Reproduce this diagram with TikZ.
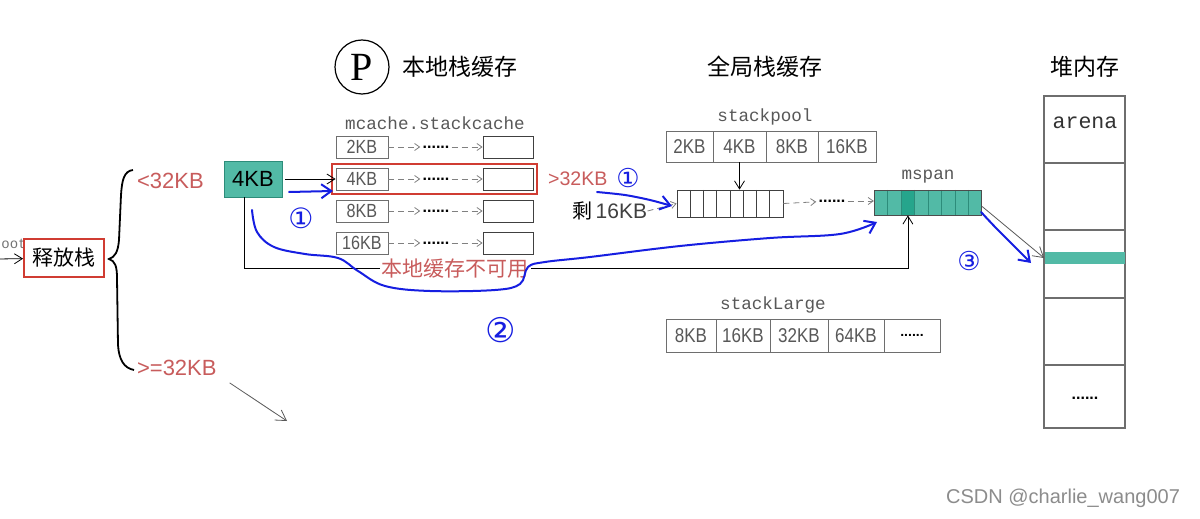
\documentclass[tikz,border=0pt]{standalone}
\usepackage{fontspec}
\setmainfont{Liberation Sans}
\setmonofont{Liberation Mono}
\newfontfamily\cjk{Noto Sans CJK SC}
\newfontfamily\cellfont[FakeStretch=0.85]{Liberation Sans}
\newfontfamily\markfont{DejaVu Sans}
\newfontfamily\pfont{Liberation Serif}
\usepackage{tikz}
\usetikzlibrary{arrows.meta, fit}
\usepackage{xcolor}
\definecolor{tealbox}{RGB}{82,186,166}
\definecolor{tealdark}{RGB}{38,165,140}
\definecolor{tealline}{RGB}{45,140,122}
\definecolor{redtxt}{RGB}{200,92,92}
\definecolor{redbox}{RGB}{208,60,50}
\definecolor{inkblue}{RGB}{22,30,225}
\definecolor{boxgray}{RGB}{110,110,110}
\definecolor{txtgray}{RGB}{88,88,88}

\begin{document}
\begin{tikzpicture}[x=0.5pt, y=-0.5pt,
    mcell/.style={draw=boxgray, minimum width=26pt, minimum height=11pt, inner sep=0,
        font=\cellfont\fontsize{9.5}{9.5}\selectfont, text=txtgray},
    pcell/.style={draw=boxgray, minimum height=15.5pt, inner sep=0,
        font=\cellfont\fontsize{10}{10}\selectfont, text=txtgray},
    dots/.style={font=\bfseries\fontsize{8}{8}\selectfont, inner sep=1pt},
    barb/.style={-{Straight Barb[length=4pt,width=5pt]}},
    dasharrow/.style={draw=gray, densely dashed, line width=0.4pt, -{Straight Barb[length=2.5pt,width=3.5pt]}},
    grayarrow/.style={draw=black!65, -{Straight Barb[length=5pt,width=6pt]}},
    ink/.style={draw=inkblue, line width=1pt, line cap=round, line join=round},
    inkarrow/.style={ink, -{Straight Barb[length=5pt,width=7pt]}},
    redlabel/.style={text=redtxt, font=\fontsize{11}{11}\selectfont},
    monolabel/.style={font=\ttfamily\fontsize{8.8}{8.8}\selectfont, text=txtgray},
    title/.style={font=\cjk\fontsize{11.5}{11.5}\selectfont},
    marknum/.style={text=inkblue, font=\markfont\fontsize{13}{13}\selectfont}]
    \useasboundingbox (0,0) rectangle (1200,519);
    \fill[white] (0,0) rectangle (1200,519);

    \node[anchor=west, text=black!55, font=\ttfamily\fontsize{7}{7}\selectfont, inner sep=0] (src) at (1,244) {oot};
    \node[draw=redbox, line width=0.9pt, minimum width=40pt, minimum height=19pt, inner sep=0,
        font=\cjk\fontsize{10.5}{10.5}\selectfont] (release) at (64,258) {释放栈};
    \coordinate (entry) at (-2,259);
    \draw[barb] (entry) -- (release);

    \draw[line width=0.9pt] (133,170) .. controls (124,171) and (122,180) .. (121,195)
        -- (119,240) .. controls (118,252) and (115,257) .. (109,259)
        .. controls (115,261) and (117,266) .. (117,278)
        -- (118,345) .. controls (119,360) and (124,368) .. (134,370);

    \node[redlabel, anchor=west] (lt32) at (130,181) {<32KB};
    \node[redlabel, anchor=west] (ge32) at (130,368) {>=32KB};
    \coordinate (big) at (287,421);
    \draw[grayarrow] ([xshift=3pt]ge32.south east) -- (big);

    \node[fill=tealbox, draw=tealline, minimum width=29pt, minimum height=18pt, inner sep=0,
        font=\fontsize{11}{11}\selectfont] (k4) at (253,179) {4KB};

    % P local cache
    \node[circle, draw, line width=0.6pt, minimum size=27pt, inner sep=0,
        font=\pfont\fontsize{20}{20}\selectfont] (p) at (362,67) {P};
    \node[title, anchor=west] (localt) at (395,67) {本地栈缓存};
    \node[monolabel] (mcache) at (435,123) {mcache.stackcache};

    \node[mcell] (m2k) at (362,147) {2KB};
    \node[mcell] (m4k) at (362,179) {4KB};
    \node[mcell] (m8k) at (362,211) {8KB};
    \node[mcell] (m16k) at (362,243) {16KB};
    \node[mcell, draw=black!75, minimum width=25pt] (r2k) at (508,147) {};
    \node[mcell, draw=black!75, minimum width=25pt] (r4k) at (508,179) {};
    \node[mcell, draw=black!75, minimum width=25pt] (r8k) at (508,211) {};
    \node[mcell, draw=black!75, minimum width=25pt] (r16k) at (508,243) {};
    \node[dots] (d2k) at (436,147) {......};
    \node[dots] (d4k) at (436,179) {......};
    \node[dots] (d8k) at (436,211) {......};
    \node[dots] (d16k) at (436,243) {......};
    \draw[dasharrow] (m2k) -- (d2k);
    \draw[dasharrow] (d2k) -- (r2k);
    \draw[dasharrow] (m4k) -- (d4k);
    \draw[dasharrow] (d4k) -- (r4k);
    \draw[dasharrow] (m8k) -- (d8k);
    \draw[dasharrow] (d8k) -- (r8k);
    \draw[dasharrow] (m16k) -- (d16k);
    \draw[dasharrow] (d16k) -- (r16k);
    \node[draw=redbox, line width=1pt, inner sep=2pt, fit=(m4k)(r4k)] (hl) {};
    \node[redlabel, anchor=west, font=\fontsize{9.8}{9.8}\selectfont] (gt32) at (541,179) {>32KB};

    \draw[barb] ([xshift=1.5pt]k4.east) -- (m4k.west);

    % global cache
    \node[title] (globalt) at (765,67) {全局栈缓存};
    \node[monolabel] (spool) at (765,117) {stackpool};
    \node[pcell, minimum width=23.5pt] (p2) at (689.5,146.5) {2KB};
    \node[pcell, minimum width=26.5pt] (p4) at (739.5,146.5) {4KB};
    \node[pcell, minimum width=26pt] (p8) at (792,146.5) {8KB};
    \node[pcell, minimum width=29pt] (p16) at (847,146.5) {16KB};

    \node[draw=black!75, minimum width=53pt, minimum height=13.5pt, inner sep=0] (pool) at (730,203.5) {};
    \draw[black!75] (690.25,190) -- (690.25,217);
    \draw[black!75] (703.5,190) -- (703.5,217);
    \draw[black!75] (716.75,190) -- (716.75,217);
    \draw[black!75] (730,190) -- (730,217);
    \draw[black!75] (743.25,190) -- (743.25,217);
    \draw[black!75] (756.5,190) -- (756.5,217);
    \draw[black!75] (769.75,190) -- (769.75,217);
    \draw[barb] (p4.south) -- (p4.south |- pool.north);

    \node[anchor=west, inner sep=0] (rest) at (572,211) {{\cjk\fontsize{10}{10}\selectfont 剩}\,{\fontsize{10.5}{10.5}\selectfont\color{black!75}16KB}};
    \draw[dasharrow] (rest.east) -- (pool.west);

    \fill[tealbox] (874.25,190) rectangle (981.75,215);
    \node[fill=tealdark, minimum width=6.7pt, minimum height=12.5pt, inner sep=0] (cur) at (907.9,202.5) {};
    \draw[tealline] (887.7,190) -- (887.7,215);
    \draw[tealline] (901.1,190) -- (901.1,215);
    \draw[tealline] (914.6,190) -- (914.6,215);
    \draw[tealline] (928,190) -- (928,215);
    \draw[tealline] (941.4,190) -- (941.4,215);
    \draw[tealline] (954.9,190) -- (954.9,215);
    \draw[tealline] (968.3,190) -- (968.3,215);
    \node[draw=black!70, minimum width=53.75pt, minimum height=12.5pt, inner sep=0] (mspan) at (928,202.5) {};
    \node[monolabel] (spanl) at (928,177) {mspan};
    \node[dots] (dpool) at (832,201) {......};
    \draw[dasharrow] (pool.east) -- (dpool);
    \draw[dasharrow] (dpool) -- (mspan.west |- dpool);

    \coordinate (low) at (244,268);
    \draw[barb] ([xshift=-4.5pt]k4.south) -- (low) -| (cur.south);
    \node[text=redtxt, fill=white, inner sep=1pt, font=\cjk\fontsize{10.5}{10.5}\selectfont] (nolocal) at (455,269) {本地缓存不可用};

    \node[monolabel] (slarge) at (773,305) {stackLarge};
    \node[pcell, minimum height=16.5pt, minimum width=25pt] (l8) at (691,335.5) {8KB};
    \node[pcell, minimum height=16.5pt, minimum width=27pt] (l16) at (743,335.5) {16KB};
    \node[pcell, minimum height=16.5pt, minimum width=29pt] (l32) at (799,335.5) {32KB};
    \node[pcell, minimum height=16.5pt, minimum width=28pt] (l64) at (856,335.5) {64KB};
    \node[pcell, minimum height=16.5pt, minimum width=28pt, font=\bfseries\fontsize{7}{7}\selectfont, text=black] (lmore) at (912,335.5) {......};

    % heap
    \node[title] (heapt) at (1085,67) {堆内存};
    \node[draw=boxgray, line width=0.8pt, minimum width=40.5pt, minimum height=166pt, inner sep=0] (heap) at (1084.5,262) {};
    \draw[boxgray, line width=0.7pt] (1044,163) -- (1125,163);
    \draw[boxgray, line width=0.7pt] (1044,230) -- (1125,230);
    \draw[boxgray, line width=0.7pt] (1044,298) -- (1125,298);
    \draw[boxgray, line width=0.7pt] (1044,365) -- (1125,365);
    \node[fill=tealbox, minimum width=40pt, minimum height=6pt, inner sep=0] (band) at (1084.5,258) {};
    \node[font=\ttfamily\fontsize{10.8}{10.8}\selectfont, text=black!80] (arena) at (1085,123) {arena};
    \node[dots] (hmore) at (1085,398) {......};
    \draw[grayarrow] ([yshift=-2pt]mspan.east) -- (band.west);

    % blue marks
    \draw[inkarrow] (289,192) -- (333,191);
    \node[marknum, font=\markfont\fontsize{14}{14}\selectfont] (n1a) at (301,218) {①};
    \draw[inkarrow] plot[smooth, tension=0.6] coordinates {(252,210) (257,232) (274,247) (305,254) (338,258) (358,271) (385,286) (430,291) (495,290) (520,284) (528,267) (545,262) (590,257) (680,246) (770,238) (840,234) (877,222)};
    \node[marknum, font=\markfont\fontsize{17}{17}\selectfont] (n2) at (501,330) {②};
    \node[marknum] (n1b) at (628,178) {①};
    \draw[inkarrow] plot[smooth] coordinates {(597,192) (625,195) (650,200) (672,206)};
    \node[marknum] (n3) at (969,261) {③};
    \draw[inkarrow] plot[smooth] coordinates {(981,212) (996,228) (1014,246) (1031,263)};

    \node[anchor=east, text=black!45, font=\fontsize{10}{10}\selectfont] (mark) at (1187,498) {CSDN @charlie\_wang007};
\end{tikzpicture}
\end{document}
